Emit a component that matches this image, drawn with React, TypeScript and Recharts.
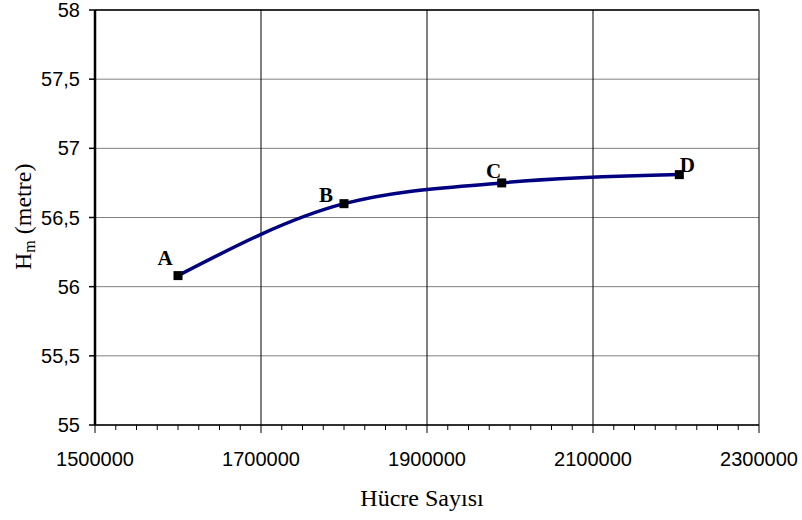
import React from 'react';
import { LineChart, Line, XAxis, YAxis, CartesianGrid, ReferenceLine, LabelList } from 'recharts';

const pointNames = ['A', 'B', 'C', 'D'];
const cellCounts = [1600000, 1800000, 1990000, 2204000];
const headValues = [56.08, 56.6, 56.75, 56.81];

const xMajorTicks = [1500000, 1700000, 1900000, 2100000, 2300000];
const xMinorStep = 25000;
const yTicks = [55, 55.5, 56, 56.5, 57, 57.5, 58];

const data = pointNames.map((name, i) => ({ name, x: cellCounts[i], y: headValues[i] }));
const xAllTicks: number[] = [];
for (let v = xMajorTicks[0]; v <= xMajorTicks[xMajorTicks.length - 1]; v += xMinorStep) xAllTicks.push(v);

const SANS = "'Liberation Sans', Arial, sans-serif";
const SERIF = "'Liberation Serif', 'Times New Roman', serif";

const labelOffsets = [
  { dx: -13, dy: -11 },
  { dx: -18, dy: -2 },
  { dx: -8, dy: -5 },
  { dx: 8, dy: -3 },
];

const XTick = (props: any) => {
  const { x, y, payload } = props;
  const v = payload.value;
  const major = xMajorTicks.includes(v);
  return (
    <g>
      <line x1={x} x2={x} y1={y} y2={y + (major ? 8 : 5)} stroke="#000" strokeWidth={1} />
      {major && (
        <text x={x} y={y + 41} textAnchor="middle" fontFamily={SANS} fontSize={20} fill="#000">
          {v}
        </text>
      )}
    </g>
  );
};

const SquareDot = (props: any) => {
  const { cx, cy } = props;
  if (cx == null || cy == null) return null;
  return <rect x={cx - 4.5} y={cy - 4.5} width={9} height={9} fill="#000" />;
};

const PointLabel = (props: any) => {
  const { x, y, index, value } = props;
  const o = labelOffsets[index] || { dx: 0, dy: 0 };
  return (
    <text x={x + o.dx} y={y + o.dy} textAnchor="middle" fontFamily={SERIF} fontWeight="bold" fontSize={21} fill="#000">
      {value}
    </text>
  );
};

export default function App() {
  return (
    <div style={{ position: 'absolute', left: 0, top: 0, width: 802, height: 520, background: '#fff' }}>
      <LineChart width={802} height={520} data={data} margin={{ top: 10, right: 43, bottom: 0, left: 0 }}>
        <CartesianGrid vertical={false} stroke="#808080" strokeWidth={1} />
        {xMajorTicks.slice(1).map((v) => (
          <ReferenceLine key={v} x={v} stroke="#000" strokeWidth={1} />
        ))}
        <ReferenceLine y={58} stroke="#000" strokeWidth={1.5} />
        <XAxis
          type="number"
          dataKey="x"
          domain={[1500000, 2300000]}
          ticks={xAllTicks}
          interval={0}
          height={95}
          tickSize={0}
          tickMargin={0}
          tickLine={false}
          tick={<XTick />}
          axisLine={{ stroke: '#000', strokeWidth: 1.5 }}
        />
        <YAxis
          type="number"
          dataKey="y"
          domain={[55, 58]}
          ticks={yTicks}
          interval={0}
          width={95}
          tickSize={6}
          tickMargin={9}
          tickLine={{ stroke: '#000', strokeWidth: 1.5 }}
          axisLine={{ stroke: '#000', strokeWidth: 2.5 }}
          tickFormatter={(v: number) => String(v).replace('.', ',')}
          tick={{ fill: '#000', fontSize: 20, fontFamily: SANS }}
        />
        <Line
          type="monotone"
          dataKey="y"
          stroke="#000080"
          strokeWidth={3.5}
          dot={<SquareDot />}
          activeDot={false}
          isAnimationActive={false}
        >
          <LabelList dataKey="name" content={<PointLabel />} />
        </Line>
        <text x={422} y={506} textAnchor="middle" fontFamily={SERIF} fontSize={24} fill="#000">
          Hücre Sayısı
        </text>
        <text
          x={31}
          y={270}
          transform="rotate(-90 31 270)"
          textAnchor="start"
          fontFamily={SERIF}
          fontSize={24}
          fill="#000"
        >
          H<tspan fontSize={16} dy={4}>m</tspan>
          <tspan dy={-4}> (metre)</tspan>
        </text>
      </LineChart>
    </div>
  );
}
